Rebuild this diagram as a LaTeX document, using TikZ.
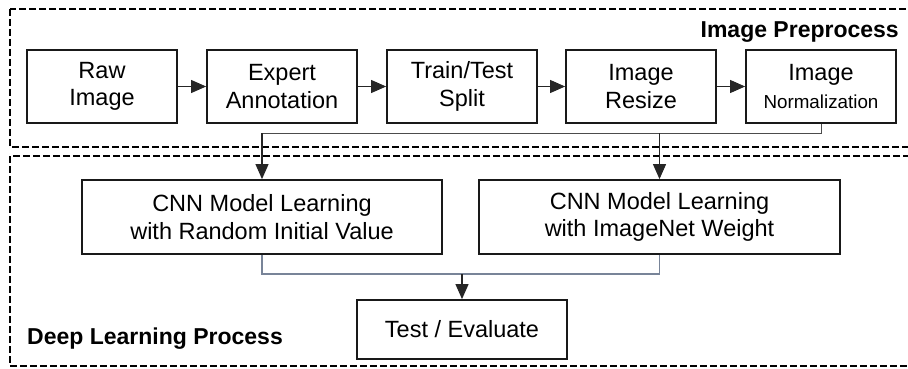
\documentclass[tikz,border=0pt]{standalone}
\usepackage{fontspec}
\setmainfont{Liberation Sans}
\usetikzlibrary{arrows.meta}
\begin{document}
\begin{tikzpicture}[x=1pt,y=-1pt,
  stepbox/.style={draw=black!90,line width=1.8pt,inner sep=0pt,align=center,
    font=\fontsize{23.5}{27.5}\selectfont},
  region/.style={draw=black,line width=2.6pt,dash pattern=on 7pt off 3pt},
  flow/.style={line width=1.1pt,draw=black!85,-{Triangle[length=15pt,width=13pt]}},
  busline/.style={line width=1pt,draw=black!70},
  grayline/.style={line width=1.2pt,draw={rgb,255:red,120;green,132;blue,152}},
  title/.style={font=\bfseries\fontsize{23}{27}\selectfont,inner sep=0pt}
]
\useasboundingbox (0,0) rectangle (908,369);
\clip (0,0) rectangle (908,369);
\draw[region] (10,9) rectangle (930,147);
\draw[region] (10,156) rectangle (930,366);

\node[title,anchor=east] (t1) at (899,32) {Image Preprocess};
\node[title,anchor=west] (t2) at (27,339) {Deep Learning Process};

\node[stepbox,minimum width=150pt,minimum height=73pt] (raw) at (102,86.5) {Raw\\Image};
\node[stepbox,minimum width=150pt,minimum height=73pt] (exp) at (282,86.5) {Expert\\Annotation};
\node[stepbox,minimum width=150pt,minimum height=73pt] (split) at (462,86.5) {Train/Test\\Split};
\node[stepbox,minimum width=150pt,minimum height=73pt] (res) at (641,86.5) {Image\\Resize};
\node[stepbox,minimum width=150pt,minimum height=73pt] (norm) at (821,86.5) {Image\\{\fontsize{18.8}{22}\selectfont Normalization}};

\node[stepbox,minimum width=360pt,minimum height=74pt] (cnnA) at (262,217) {CNN Model Learning\\with Random Initial Value};
\node[stepbox,minimum width=361pt,minimum height=74pt] (cnnB) at (659.5,217) {CNN Model Learning\\with ImageNet Weight};
\node[stepbox,minimum width=210pt,minimum height=59pt] (test) at (462,329.5) {Test / Evaluate};

\draw[flow] (raw) -- (exp);
\draw[flow] (exp) -- (split);
\draw[flow] (split) -- (res);
\draw[flow] (res) -- (norm);

\coordinate (bus) at (0,133);
\draw[busline] (norm.south) -- (norm.south |- bus) -- (cnnA.north |- bus);
\draw[flow] (cnnA.north |- bus) -- (cnnA.north);
\draw[flow] (cnnB.north |- bus) -- (cnnB.north);

\coordinate (bus2) at (0,274);
\draw[grayline] (cnnA.south) -- (cnnA.south |- bus2) -- (cnnB.south |- bus2) -- (cnnB.south);
\draw[flow] (test.north |- bus2) -- (test.north);
\end{tikzpicture}
\end{document}
